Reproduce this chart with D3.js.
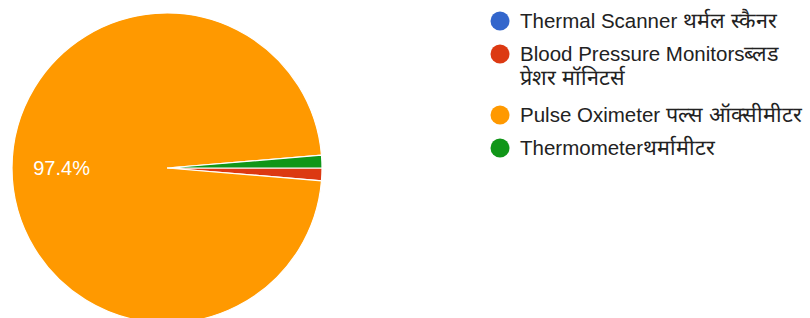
<!DOCTYPE html>
<html>
<head>
    <meta charset="utf-8">
    <title>Pie</title>
    <script src="https://d3js.org/d3.v7.min.js"></script>
    <style>
        body { margin: 0; background: #fff; }
        text { font-family: Arial, "Liberation Sans", sans-serif; }
    </style>
</head>

<body>
<div id="chart"></div>
<script type="text/javascript">
    // dados
    let labels = [
        ["Thermal Scanner थर्मल स्कैनर"],
        ["Blood Pressure Monitorsब्लड", "प्रेशर मॉनिटर्स"],
        ["Pulse Oximeter पल्स ऑक्सीमीटर"],
        ["Thermometerथर्मामीटर"]
    ];
    let values = [0, 1, 74, 1];
    let colors = ["#3366cc", "#dc3912", "#ff9900", "#109618"];

    let w = 810, h = 318;
    let cx = 167, cy = 168, r = 155;

    let svg = d3.select("#chart")
            .append("svg")
                .attr("width", w)
                .attr("height", h);

    let total = d3.sum(values);

    // a pizza começa às 3 horas, no sentido horário
    let pie = d3.pie()
                .sort(null)
                .startAngle(Math.PI / 2)
                .endAngle(Math.PI / 2 + 2 * Math.PI);

    let arcs = pie(values);

    let arc = d3.arc()
                .innerRadius(0)
                .outerRadius(r);

    let labelArc = d3.arc()
                .innerRadius(r * 0.68)
                .outerRadius(r * 0.68);

    let g = svg.append("g")
                .attr("transform", "translate(" + cx + "," + cy + ")");

    g.selectAll("path")
        .data(arcs)
        .enter()
        .append("path")
        .attr("d", arc)
        .attr("fill", function(d, i){ return colors[i]; })
        .attr("stroke", "#fff")
        .attr("stroke-width", 1.2);

    // rótulo de porcentagem (só fatias grandes)
    g.selectAll("text.pct")
        .data(arcs.filter(function(d){ return d.value / total > 0.05; }))
        .enter()
        .append("text")
        .attr("class", "pct")
        .attr("transform", function(d){ return "translate(" + labelArc.centroid(d) + ")"; })
        .attr("dy", "0.35em")
        .style("text-anchor", "middle")
        .attr("font-size", "20px")
        .attr("fill", "#fff")
        .text(function(d){ return (d.value / total * 100).toFixed(1) + "%"; });

    // legenda
    let legendX = 500, legendY = 21, itemGap = 33, extraLine = 28, lineH = 24;
    let y = legendY;
    let legend = svg.append("g");

    labels.forEach(function(lines, i){
        let item = legend.append("g")
                .attr("transform", "translate(" + legendX + "," + y + ")");
        item.append("circle")
            .attr("r", 9.5)
            .attr("fill", colors[i]);
        let t = item.append("text")
            .attr("x", 20)
            .attr("y", 7)
            .attr("font-size", "20.5px")
            .attr("fill", "#222");
        lines.forEach(function(s, j){
            // separa trechos em devanágari para aumentar um pouco a fonte
            let parts = s.match(/[\u0900-\u097F]+|[^\u0900-\u097F]+/g);
            parts.forEach(function(p, k){
                let ts = t.append("tspan").text(p);
                if (k === 0) {
                    ts.attr("x", 20).attr("dy", j === 0 ? 0 : lineH);
                }
                if (/[\u0900-\u097F]/.test(p)) ts.attr("font-size", "21.5px");
            });
        });
        y += itemGap + (lines.length - 1) * extraLine;
    });
</script>
</body>
</html>
